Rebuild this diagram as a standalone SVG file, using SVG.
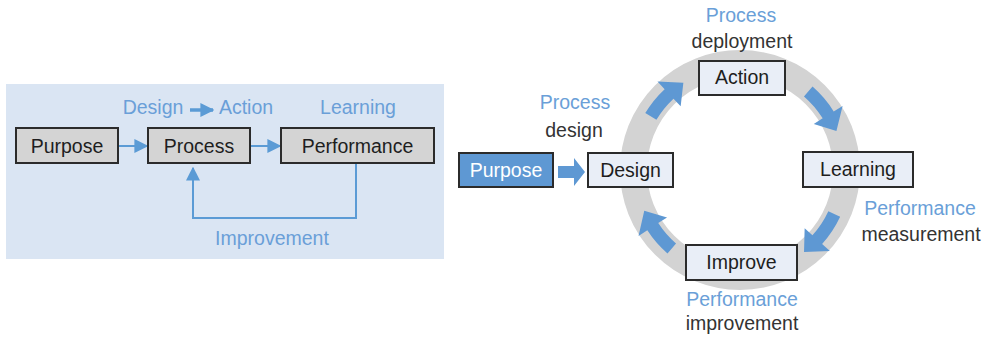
<svg xmlns="http://www.w3.org/2000/svg" width="988" height="337" viewBox="0 0 988 337">
<defs>
<style>
text{font-family:"Liberation Sans",Arial,sans-serif;font-size:19.5px;text-anchor:middle;fill:#1e1e1e}
.blue{fill:#6a9fd8}
.dark{fill:#333333}
.gbox{fill:#d4d4d4;stroke:#2b2b2b;stroke-width:2}
.lbox{fill:#e9eef7;stroke:#2b2b2b;stroke-width:2}
.conn{fill:none;stroke:#5b9bd5;stroke-width:2}
.arc{fill:#5e98d3}
</style>
<marker id="ah" viewBox="0 0 10 10" refX="9" refY="5" markerWidth="14" markerHeight="14" markerUnits="userSpaceOnUse" orient="auto">
<path d="M0,0 L10,5 L0,10 Z" fill="#5b9bd5"/>
</marker>
</defs>
<rect x="6" y="84" width="438" height="175" fill="#dae5f3"/>
<g id="connectors">
<line class="conn" x1="118" y1="146" x2="147" y2="146" marker-end="url(#ah)"/>
<line class="conn" x1="251" y1="146" x2="280" y2="146" marker-end="url(#ah)"/>
<polyline class="conn" points="356,163 356,218 193,218 193,168" marker-end="url(#ah)"/>
<line x1="190" y1="110" x2="213" y2="110" stroke="#5b9bd5" stroke-width="3.5" marker-end="url(#ah)"/>
<path d="M558,166 L574,166 L574,158 L585,172 L574,186 L574,178 L558,178 Z" fill="#5e98d3"/>
</g>
<text class="blue" x="153" y="114">Design</text>
<text class="blue" x="246" y="114">Action</text>
<text class="blue" x="358" y="114">Learning</text>
<text class="blue" x="272" y="245">Improvement</text>
<g id="purpose-left"><rect class="gbox" x="16" y="128" width="102" height="35"/><text x="67" y="153">Purpose</text></g>
<g id="process-left"><rect class="gbox" x="148" y="128" width="102" height="35"/><text x="199" y="153">Process</text></g>
<g id="performance-left"><rect class="gbox" x="281" y="128" width="153" height="35"/><text x="357.5" y="153">Performance</text></g>
<circle cx="740" cy="170" r="106.5" fill="none" stroke="#d3d3d3" stroke-width="27"/>
<g id="cycle-arrows">
<path class="arc" d="M645.28,113.09 A110.5,110.5 0 0 1 664.64,89.18 L657.48,81.50 L683.36,82.78 L680.67,106.37 L673.50,98.69 A97.5,97.5 0 0 0 656.42,119.79 Z"/>
<path class="arc" d="M812.50,86.61 A110.5,110.5 0 0 1 833.70,111.45 L842.61,105.88 L836.43,131.04 L813.78,123.90 L822.68,118.33 A97.5,97.5 0 0 0 803.97,96.42 Z"/>
<path class="arc" d="M840.15,216.70 A110.5,110.5 0 0 1 822.11,243.94 L829.92,250.96 L804.03,251.95 L804.65,228.21 L812.45,235.24 A97.5,97.5 0 0 0 828.36,211.20 Z"/>
<path class="arc" d="M667.50,253.39 A110.5,110.5 0 0 1 647.32,230.18 L638.52,235.90 L644.27,210.63 L667.03,217.38 L658.23,223.10 A97.5,97.5 0 0 0 676.03,243.58 Z"/>
</g>
<g id="purpose-right"><rect x="459" y="153" width="94" height="34" fill="#5e98d3" stroke="#2b2b2b" stroke-width="2"/><text x="506" y="177" style="fill:#ffffff">Purpose</text></g>
<g id="design"><rect class="lbox" x="588" y="153" width="85" height="34"/><text x="630.5" y="177">Design</text></g>
<g id="action"><rect class="lbox" x="699" y="61" width="86" height="34"/><text x="742" y="84">Action</text></g>
<g id="learning"><rect class="lbox" x="803" y="152" width="110" height="35"/><text x="858" y="176">Learning</text></g>
<g id="improve"><rect class="lbox" x="686" y="245" width="111" height="35"/><text x="741.5" y="269">Improve</text></g>
<text class="blue" x="741" y="22">Process</text>
<text class="dark" x="742" y="48">deployment</text>
<text class="blue" x="575" y="109">Process</text>
<text class="dark" x="574" y="137">design</text>
<text class="blue" x="920" y="215">Performance</text>
<text class="dark" x="921" y="241">measurement</text>
<text class="blue" x="742" y="306">Performance</text>
<text class="dark" x="742" y="330">improvement</text>
</svg>
